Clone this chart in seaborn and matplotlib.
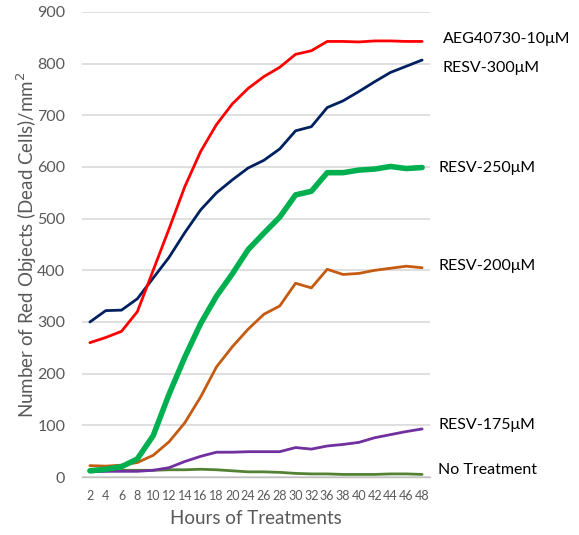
import matplotlib
matplotlib.use("Agg")
import matplotlib.pyplot as plt
import seaborn as sns
import pandas as pd

hours = ["2", "4", "6", "8", "10", "12", "14", "16", "18", "20", "24", "26",
         "28", "30", "32", "36", "38", "40", "42", "44", "46", "48"]

aeg_10 = [260, 270, 282, 320, 400, 480, 562, 630, 682, 722, 752, 775,
          793, 818, 825, 843, 843, 842, 844, 844, 843, 843]
resv_300 = [300, 322, 323, 345, 385, 425, 473, 517, 550, 575, 598, 613,
            635, 670, 678, 715, 728, 746, 765, 783, 795, 807]
resv_250 = [12, 15, 20, 35, 80, 160, 232, 297, 350, 393, 440, 472,
            503, 546, 553, 589, 589, 594, 596, 601, 597, 599]
resv_200 = [22, 21, 23, 28, 42, 68, 105, 155, 213, 252, 286, 315,
            331, 375, 366, 402, 392, 394, 400, 404, 408, 405]
resv_175 = [10, 11, 11, 11, 13, 18, 30, 40, 48, 48, 49, 49,
            49, 57, 54, 60, 63, 67, 76, 82, 88, 93]
no_treat = [12, 12, 13, 13, 13, 14, 14, 15, 14, 12, 10, 10,
            9, 7, 6, 6, 5, 5, 5, 6, 6, 5]

series_names = ["AEG40730-10μM", "RESV-300μM", "RESV-250μM",
                "RESV-200μM", "RESV-175μM", "No Treatment"]
series_values = [aeg_10, resv_300, resv_250, resv_200, resv_175, no_treat]
colors = ["#FF0000", "#002060", "#00B050", "#C55A11", "#7030A0", "#548235"]
widths = [2.0, 2.0, 4.0, 2.0, 2.0, 2.0]
label_dx = [15, 15, 12, 12, 11.5, 11.5]   # horizontal offsets in points
label_dy = [1.4, -5.8, -0.7, 1.1, 3.0, 3.1]  # vertical offsets in points

rows = []
for name, vals in zip(series_names, series_values):
    for h, v in zip(hours, vals):
        rows.append({"Hours": h, "Value": v, "Series": name})
df = pd.DataFrame(rows)

sns.set_theme(style="white")
plt.rcParams["font.family"] = ["Lato", "DejaVu Sans"]

fig = plt.figure(figsize=(5.79, 5.35), dpi=100)
ax = fig.add_axes([0.1416, 0.1084, 0.6011, 0.8692])

order = list(reversed(range(len(series_names))))
for i in order:
    name = series_names[i]
    sub = df[df["Series"] == name]
    sns.lineplot(data=sub, x="Hours", y="Value", ax=ax, color=colors[i],
                 linewidth=widths[i], sort=False, legend=False)

n = len(hours)
ax.set_xlim(-0.5, n - 0.5)
ax.set_ylim(0, 900)
ax.set_yticks(range(0, 901, 100))
ax.yaxis.grid(True, color="#D9D9D9", linewidth=1.2)
ax.xaxis.grid(False)
ax.set_axisbelow(True)

ax.set_xticks(range(n))
ax.set_xticklabels(hours)
ax.set_xticks([i - 0.5 for i in range(n + 1)], minor=True)
ax.tick_params(axis="x", which="major", length=0, labelsize=9,
               labelcolor="#595959", pad=9)
ax.tick_params(axis="x", which="minor", length=5, color="#BFBFBF",
               width=1, direction="out")
ax.tick_params(axis="y", length=0, labelsize=11.5, labelcolor="#595959", pad=12)

for s in ["top", "right", "left"]:
    ax.spines[s].set_visible(False)
ax.spines["bottom"].set_color("#BFBFBF")
ax.spines["bottom"].set_linewidth(1)

ax.set_xlabel("Hours of Treatments", fontsize=13.5, color="#595959", labelpad=6)
ax.set_ylabel("Number of Red Objects (Dead Cells)/mm$^2$", fontsize=13.5,
              color="#595959", labelpad=-1)

for name, vals, dx, dy in zip(series_names, series_values, label_dx, label_dy):
    ax.annotate(name, xy=(n - 1, vals[-1]), xytext=(dx, dy),
                textcoords="offset points", fontsize=11.5, color="black",
                va="center", ha="left", annotation_clip=False)

fig.savefig("out.png", dpi=100)
